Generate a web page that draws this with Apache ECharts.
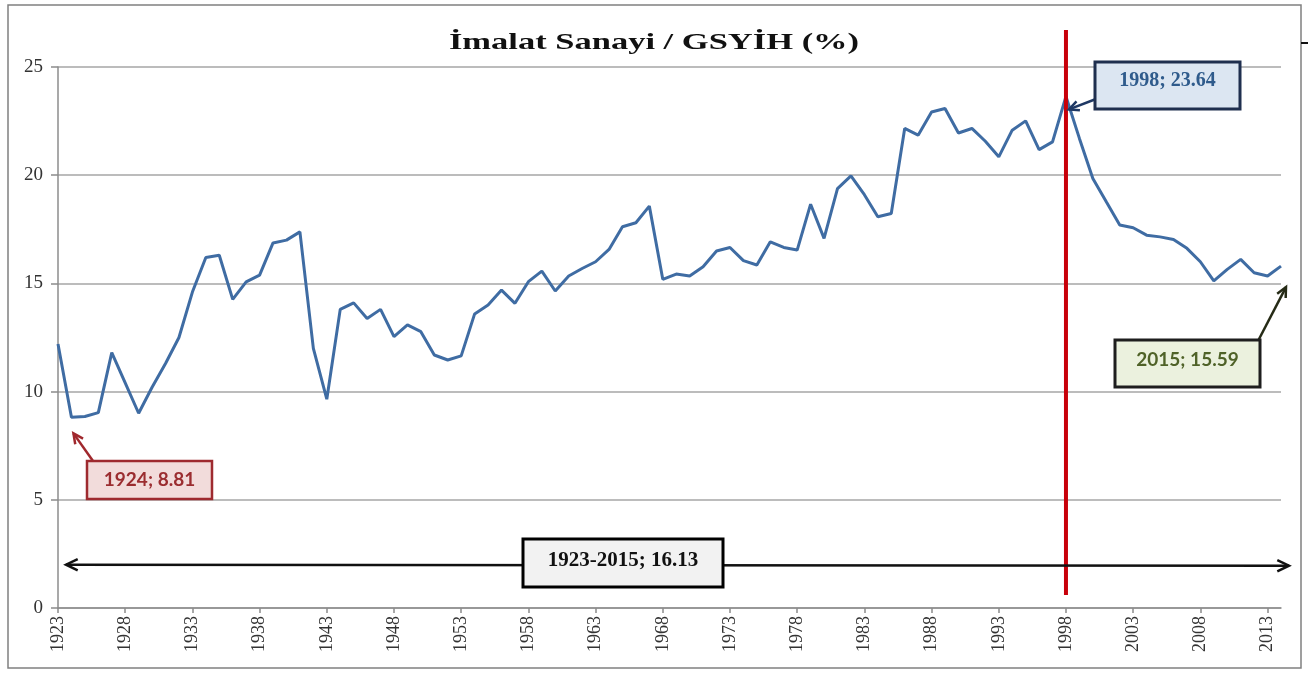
<!DOCTYPE html>
<html>
<head>
<meta charset="utf-8">
<script src="https://cdn.jsdelivr.net/npm/echarts@6/dist/echarts.min.js"></script>
<style>
html,body{margin:0;padding:0;background:#fff;}
#chart{width:1308px;height:675px;}
</style>
</head>
<body>
<div id="chart"></div>
<script>
// ---- data ----
const years = [
 '1923','1924','1925','1926','1927','1928','1929','1930','1931','1932',
 '1933','1934','1935','1936','1937','1938','1939','1940','1941','1942',
 '1943','1944','1945','1946','1947','1948','1949','1950','1951','1952',
 '1953','1954','1955','1956','1957','1958','1959','1960','1961','1962',
 '1963','1964','1965','1966','1967','1968','1969','1970','1971','1972',
 '1973','1974','1975','1976','1977','1978','1979','1980','1981','1982',
 '1983','1984','1985','1986','1987','1988','1989','1990','1991','1992',
 '1993','1994','1995','1996','1997','1998','1999','2000','2001','2002',
 '2003','2004','2005','2006','2007','2008','2009','2010','2011','2012',
 '2013','2014'
];
const values = [
 12.2, 8.81, 8.85, 9.03, 11.8, 10.4, 9.0, 10.2, 11.3, 12.5,
 14.6, 16.2, 16.3, 14.26, 15.07, 15.38, 16.87, 17.0, 17.38, 12.0,
 9.65, 13.8, 14.1, 13.38, 13.8, 12.54, 13.08, 12.77, 11.69, 11.46,
 11.65, 13.59, 14.0, 14.69, 14.08, 15.08, 15.57, 14.65, 15.34, 15.69,
 16.0, 16.57, 17.62, 17.8, 18.57, 15.19, 15.43, 15.34, 15.77, 16.5,
 16.66, 16.05, 15.85, 16.92, 16.66, 16.54, 18.66, 17.08, 19.38, 19.97,
 19.1, 18.08, 18.23, 22.16, 21.85, 22.92, 23.08, 21.95, 22.16, 21.57,
 20.85, 22.08, 22.51, 21.18, 21.54, 23.64, 21.7, 19.85, 18.77, 17.7,
 17.57, 17.23, 17.15, 17.03, 16.62, 16.0, 15.12, 15.65, 16.11, 15.49,
 15.34, 15.8
];
const yAxisMin = 0, yAxisMax = 25, yAxisStep = 5;
const titleText = 'İmalat Sanayi / GSYİH (%)';
const noteMin = '1924; 8.81';
const noteMax = '1998; 23.64';
const noteLast = '2015; 15.59';
const noteAvg = '1923-2015; 16.13';
const minYear = '1924', maxYear = '1998', lastYear = '2014', firstYear = '1923';

// ---- chart ----
const chart = echarts.init(document.getElementById('chart'), null, {renderer: 'canvas'});
chart.setOption({
  animation: false,
  backgroundColor: '#ffffff',
  grid: {left: 58, right: 27, top: 67, bottom: 67, containLabel: false, outerBoundsMode: 'none'},
  xAxis: {
    type: 'category',
    data: years,
    boundaryGap: false,
    axisLine: {lineStyle: {color: '#8c8c8c', width: 1.5}},
    axisTick: {show: true, interval: 4, length: 5, lineStyle: {color: '#8c8c8c', width: 1.5}},
    axisLabel: {interval: 4, rotate: 90, margin: 8, fontFamily: 'Liberation Serif', fontSize: 18, color: '#333'},
    splitLine: {show: false}
  },
  yAxis: {
    type: 'value', min: yAxisMin, max: yAxisMax, interval: yAxisStep,
    axisLine: {show: true, lineStyle: {color: '#8c8c8c', width: 1.5}},
    axisTick: {show: true, length: 7, lineStyle: {color: '#8c8c8c', width: 1.5}},
    axisLabel: {margin: 15, fontFamily: 'Liberation Serif', fontSize: 19, color: '#333'},
    splitLine: {lineStyle: {color: '#a6a6a6', width: 1.5}}
  },
  series: [{
    type: 'line',
    data: values,
    showSymbol: false,
    symbol: 'none',
    lineStyle: {color: '#3f6ca3', width: 3},
    z: 3
  }]
});

function px(cat, val) { return chart.convertToPixel({gridIndex: 0}, [cat, val]); }

function arrow(x1, y1, x2, y2, color, w, head) {
  const a = Math.atan2(y2 - y1, x2 - x1), s = 0.45;
  return [
    {type: 'line', shape: {x1: x1, y1: y1, x2: x2, y2: y2}, style: {stroke: color, lineWidth: w}, z: 20},
    {type: 'polyline', shape: {points: [
      [x2 - head * Math.cos(a - s), y2 - head * Math.sin(a - s)],
      [x2, y2],
      [x2 - head * Math.cos(a + s), y2 - head * Math.sin(a + s)]
    ]}, style: {stroke: color, lineWidth: w, fill: null}, z: 20}
  ];
}
function box(x, y, w, h, fill, stroke, lw, text, font, color, dy) {
  return [
    {type: 'rect', shape: {x: x, y: y, width: w, height: h}, style: {fill: fill, stroke: stroke, lineWidth: lw}, z: 21},
    {type: 'text', x: x + w / 2, y: y + h / 2 + (dy || 0), style: {text: text, font: font, fill: color, align: 'center', verticalAlign: 'middle'}, z: 22}
  ];
}

const pMin = px(minYear, values[years.indexOf(minYear)]);
const pMax = px(maxYear, values[years.indexOf(maxYear)]);
const pLast = px(lastYear, values[years.indexOf(lastYear)]);
const pFirst = px(firstYear, 2);
const pEnd = px(lastYear, 2);
const xRed = px(maxYear, 0)[0];

let g = [];
// outer frame
g.push({type: 'rect', shape: {x: 8, y: 5, width: 1293, height: 663}, style: {fill: null, stroke: '#808080', lineWidth: 1.5}, z: 1});
g.push({type: 'line', shape: {x1: 1301, y1: 43, x2: 1308, y2: 43}, style: {stroke: '#111', lineWidth: 2}, z: 1});
// title
g.push({type: 'text', x: 654, y: 43, scaleX: 1.5, style: {text: titleText, font: 'bold 23px "Liberation Serif"', fill: '#111', align: 'center', verticalAlign: 'middle'}, z: 10});
// red vertical line at 1998
g.push({type: 'line', shape: {x1: xRed, y1: 30, x2: xRed, y2: 595}, style: {stroke: '#c8000a', lineWidth: 4}, z: 15});
// double arrow for the whole period
g = g.concat(arrow(pFirst[0] + 600, pFirst[1] + 0.5, pFirst[0] + 8, pFirst[1], '#111', 2.5, 13));
g = g.concat(arrow(pFirst[0] + 600, pFirst[1] + 0.5, pEnd[0] + 8, pEnd[1] + 1, '#111', 2.5, 13));
// annotations
g = g.concat(arrow(93, 461, pMin[0] + 2, pMin[1] + 16, '#a0282d', 2.5, 11));
g = g.concat(box(87, 461, 125, 38, '#f2dcdb', '#9e2a2f', 2.5, noteMin, 'bold 19px Lato', '#9b2d30', 0));
g = g.concat(arrow(1096, 99, pMax[0] + 3, pMax[1] + 13, '#1f3864', 2.5, 11));
g = g.concat(box(1095, 62, 145, 47, '#dce6f2', '#1f2f4f', 3, noteMax, 'bold 20px "Liberation Serif"', '#2f5b8c', -5));
g = g.concat(arrow(1258, 341, pLast[0] + 5, pLast[1] + 21, '#262b16', 2.5, 11));
g = g.concat(box(1115, 340, 145, 47, '#ebf1de', '#1e1e1e', 3, noteLast, 'bold 19px Lato', '#4f6228', -4));
g = g.concat(box(523, 539, 200, 48, '#f2f2f2', '#000000', 3, noteAvg, 'bold 21px "Liberation Serif"', '#111', -2));

chart.setOption({graphic: {elements: g}});
</script>
</body>
</html>
